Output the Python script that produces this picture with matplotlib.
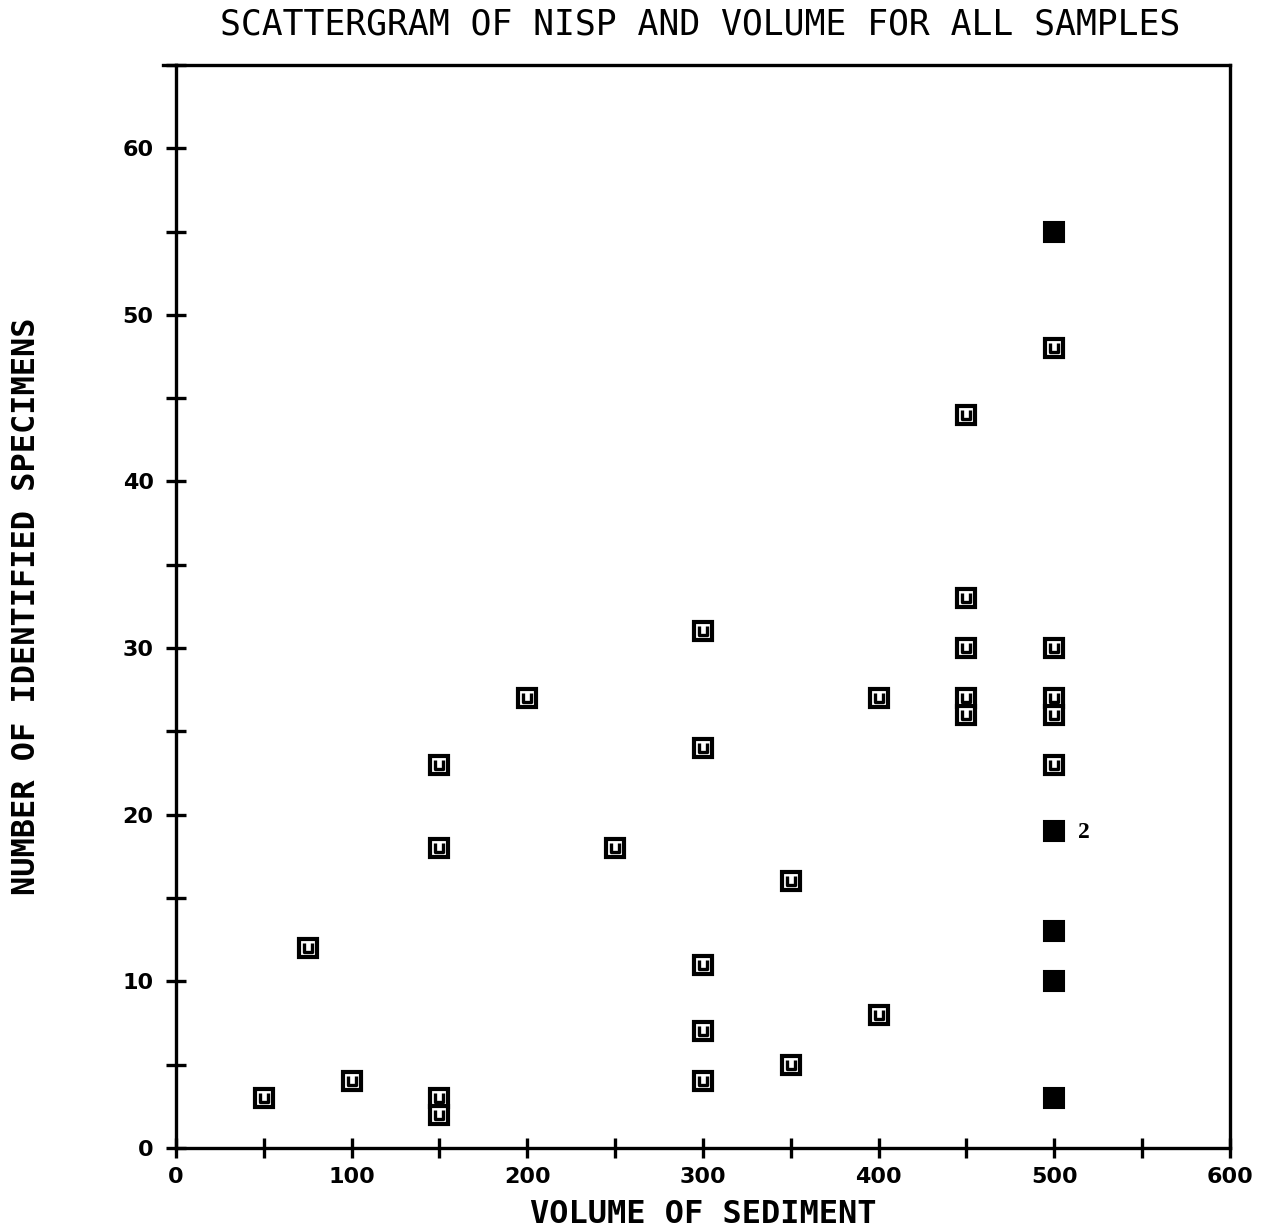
import matplotlib
matplotlib.use("Agg")
import matplotlib.pyplot as plt
from matplotlib.path import Path
from matplotlib.lines import Line2D
from matplotlib.ticker import MultipleLocator, FuncFormatter

# Samples: sediment volume vs. number of identified specimens
open_volume = [50, 75, 100, 150, 150, 150, 150, 200, 250,
               300, 300, 300, 300, 300, 350, 350, 400, 400,
               450, 450, 450, 450, 450, 500, 500, 500, 500, 500]
open_nisp = [3, 12, 4, 3, 2, 18, 23, 27, 18,
             31, 24, 11, 7, 4, 16, 5, 27, 8,
             44, 33, 30, 27, 26, 48, 30, 27, 26, 23]

filled_volume = [500, 500, 500, 500, 500]
filled_nisp = [55, 19, 13, 10, 3]

# point counts printed beside a marker (volume, nisp, text)
count_labels = [(500, 19, "2")]

x_ticks_labeled = [0, 100, 200, 300, 400, 500, 600]
y_ticks_labeled = [0, 10, 20, 30, 40, 50, 60]

fig = plt.figure(figsize=(12.64, 12.30), dpi=100)
ax = fig.add_axes([0.1392, 0.0667, 0.8339, 0.8805])

# open square carrying a small "u" inside
u_path = Path([(-0.45, 0.55), (-0.45, -0.45), (0.45, -0.45), (0.45, 0.55)],
              [Path.MOVETO, Path.LINETO, Path.LINETO, Path.LINETO])

ax.plot(open_volume, open_nisp, linestyle="none", marker="s", markersize=12.5,
        markerfacecolor="white", markeredgecolor="black", markeredgewidth=3.0,
        zorder=3)
ax.plot(open_volume, open_nisp, linestyle="none", marker=u_path, markersize=7.5,
        markerfacecolor="none", markeredgecolor="black", markeredgewidth=2.4,
        zorder=4)
ax.plot(filled_volume, filled_nisp, linestyle="none", marker="s", markersize=14,
        markerfacecolor="black", markeredgecolor="black", markeredgewidth=1.5,
        zorder=3)

for vx, vy, txt in count_labels:
    ax.annotate(txt, (vx, vy), xytext=(17, -1), textcoords="offset points",
                ha="left", va="center", fontsize=17, fontweight="bold",
                family="Liberation Serif")

ax.set_xlim(0, 600)
ax.set_ylim(0, 65)

ax.xaxis.set_major_locator(MultipleLocator(50))
ax.yaxis.set_major_locator(MultipleLocator(5))
ax.xaxis.set_major_formatter(FuncFormatter(
    lambda v, p: f"{int(round(v))}" if int(round(v)) in x_ticks_labeled else ""))
ax.yaxis.set_major_formatter(FuncFormatter(
    lambda v, p: f"{int(round(v))}" if int(round(v)) in y_ticks_labeled else ""))

ax.tick_params(direction="inout", length=14, width=2.4, labelsize=16,
               color="black")
ax.tick_params(axis="x", pad=7)
ax.tick_params(axis="y", pad=9)
for lab in ax.get_xticklabels() + ax.get_yticklabels():
    lab.set_fontweight("bold")

for side in ["left", "bottom", "right", "top"]:
    ax.spines[side].set_linewidth(2.4)
    ax.spines[side].set_color("black")

# top frame line runs a little past the left axis
ax.add_line(Line2D([-0.012, 0.0], [1.0, 1.0], transform=ax.transAxes,
                   color="black", linewidth=2.4, clip_on=False))

fig.text(0.5536, 0.980, "SCATTERGRAM OF NISP AND VOLUME FOR ALL SAMPLES",
         ha="center", va="center", fontsize=25, family="DejaVu Sans Mono")
ax.set_xlabel("VOLUME OF SEDIMENT", fontsize=23, family="DejaVu Sans Mono",
              fontweight="bold", labelpad=8)
ax.set_ylabel("NUMBER OF IDENTIFIED SPECIMENS", fontsize=23,
              family="DejaVu Sans Mono", fontweight="bold", labelpad=58)

fig.savefig("out.png", dpi=100, facecolor="white")
